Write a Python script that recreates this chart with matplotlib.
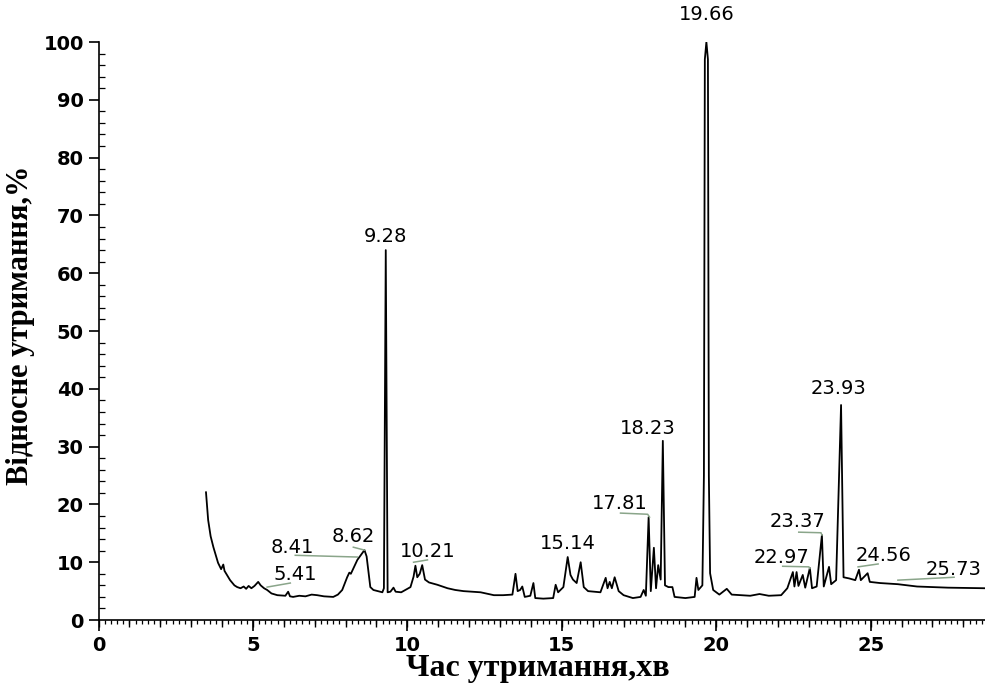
import matplotlib
matplotlib.use("Agg")
import matplotlib.pyplot as plt
from matplotlib.ticker import MultipleLocator

# chromatogram trace (retention time, min / relative abundance, %)
ret_time = [3.48, 3.55, 3.63, 3.72, 3.87, 3.97, 4.04, 4.08, 4.26, 4.40, 4.49, 4.60, 4.70, 4.78,
            4.86, 4.95, 5.05, 5.17, 5.25, 5.36, 5.46, 5.60, 5.79, 6.05, 6.14, 6.20, 6.30, 6.50,
            6.70, 6.90, 7.08, 7.30, 7.60, 7.75, 7.89, 8.05, 8.12, 8.17, 8.38, 8.61, 8.68, 8.80,
            8.90, 9.19, 9.24, 9.30, 9.36, 9.45, 9.55, 9.62, 9.80, 10.10, 10.20, 10.26, 10.32,
            10.40, 10.48, 10.57, 10.70, 10.97, 11.30, 11.55, 11.82, 12.10, 12.37, 12.80, 13.10,
            13.40, 13.50, 13.57, 13.65, 13.72, 13.80, 13.98, 14.08, 14.14, 14.40, 14.72, 14.80,
            14.88, 15.05, 15.19, 15.28, 15.36, 15.48, 15.61, 15.71, 15.85, 16.25, 16.42, 16.48,
            16.55, 16.62, 16.71, 16.84, 17.00, 17.30, 17.55, 17.65, 17.72, 17.81, 17.88, 17.98,
            18.05, 18.12, 18.20, 18.27, 18.34, 18.45, 18.58, 18.65, 19.00, 19.30, 19.36, 19.42,
            19.55, 19.60, 19.63, 19.68, 19.73, 19.76, 19.80, 19.90, 20.10, 20.34, 20.50, 20.80,
            21.10, 21.40, 21.70, 22.10, 22.30, 22.48, 22.53, 22.60, 22.66, 22.80, 22.88, 23.03,
            23.10, 23.25, 23.42, 23.48, 23.65, 23.72, 23.88, 24.04, 24.12, 24.30, 24.50, 24.62,
            24.68, 24.90, 24.97, 25.30, 25.88, 26.50, 27.50, 28.70]
rel_abund = [22.1, 17.3, 14.5, 12.6, 9.9, 8.8, 9.6, 8.5, 6.9, 6.0, 5.7, 5.5, 5.8, 5.4,
             5.9, 5.5, 5.9, 6.6, 6.0, 5.5, 5.2, 4.6, 4.3, 4.2, 4.9, 4.1, 4.0, 4.2,
             4.1, 4.4, 4.3, 4.1, 4.0, 4.4, 5.2, 7.4, 8.2, 8.0, 10.4, 12.1, 11.0, 5.7,
             5.2, 4.8, 5.5, 64.0, 4.8, 4.9, 5.6, 4.9, 4.8, 5.7, 7.5, 9.4, 7.4,
             8.0, 9.5, 7.0, 6.5, 6.1, 5.5, 5.2, 5.0, 4.9, 4.8, 4.3, 4.3,
             4.4, 8.0, 5.0, 5.2, 5.8, 4.0, 4.2, 6.4, 3.8, 3.7, 3.8, 6.1,
             4.8, 5.7, 10.9, 7.8, 7.0, 6.4, 10.0, 5.7, 5.0, 4.8, 7.3, 5.5,
             6.6, 5.5, 7.4, 5.0, 4.3, 3.8, 4.0, 5.2, 4.2, 17.8, 5.0, 12.5,
             5.5, 9.5, 7.0, 31.0, 6.0, 5.7, 5.7, 4.0, 3.8, 4.0, 7.3, 5.2,
             6.0, 25.0, 97.0, 100.0, 97.0, 25.0, 8.1, 5.2, 4.4, 5.4, 4.4, 4.3,
             4.2, 4.5, 4.2, 4.3, 5.5, 8.3, 5.8, 8.3, 5.9, 7.8, 5.6, 9.0,
             5.5, 5.8, 14.7, 5.8, 9.2, 6.2, 6.9, 37.2, 7.4, 7.2, 6.9, 8.7,
             6.9, 8.1, 6.6, 6.4, 6.2, 5.8, 5.6, 5.5]

peak_labels = ["5.41", "8.41", "8.62", "9.28", "10.21", "15.14", "17.81", "18.23",
               "19.66", "22.97", "23.37", "23.93", "24.56", "25.73"]

# where each label sits and its leader line (None = label right above the peak)
label_xy = [(6.37, 7.8), (6.28, 12.6), (8.25, 14.5), (9.29, 66.4), (10.65, 11.8),
            (15.19, 13.3), (16.87, 20.2), (17.78, 33.2), (19.69, 104.8), (22.12, 10.9),
            (22.64, 17.0), (23.97, 40.0), (25.43, 11.1), (27.67, 8.7)]
leaders = [[(5.46, 5.7), (6.21, 6.4)],
           [(6.37, 11.2), (8.38, 10.9)],
           [(8.25, 12.6), (8.61, 12.1)],
           None,
           [(10.2, 10.0), (10.65, 10.4)],
           None,
           [(16.9, 18.5), (17.78, 18.3), (17.84, 17.8)],
           None,
           None,
           [(22.15, 9.3), (23.0, 9.2), (23.03, 8.9)],
           [(22.67, 15.2), (23.39, 15.1), (23.42, 14.7)],
           None,
           [(24.59, 9.2), (25.24, 9.7)],
           [(25.88, 6.9), (27.7, 7.4)]]

fig = plt.figure(figsize=(9.85, 6.91), dpi=100)
ax = fig.add_axes([0.1, 0.1027, 0.9, 0.8365])

ax.plot(ret_time, rel_abund, color="black", lw=1.3)

for txt, (tx, ty), ld in zip(peak_labels, label_xy, leaders):
    ax.text(tx, ty, txt, ha="center", va="center", fontsize=14,
            family="DejaVu Sans", clip_on=False)
    if ld is not None:
        ax.plot([p[0] for p in ld], [p[1] for p in ld], color="#8aa58a", lw=1.1)

ax.set_xlim(0, 28.7)
ax.set_ylim(0, 100)
ax.spines["top"].set_visible(False)
ax.spines["right"].set_visible(False)
ax.spines["left"].set_linewidth(1.2)
ax.spines["bottom"].set_linewidth(1.2)

ax.xaxis.set_major_locator(MultipleLocator(5))
ax.xaxis.set_minor_locator(MultipleLocator(0.2))
ax.yaxis.set_major_locator(MultipleLocator(10))
ax.yaxis.set_minor_locator(MultipleLocator(2))
ax.tick_params(axis="x", which="major", direction="out", length=8, width=1.2)
ax.tick_params(axis="x", which="minor", direction="out", length=3, width=0.9)
ax.tick_params(axis="y", which="major", direction="out", length=7, width=1.2)
ax.tick_params(axis="y", which="minor", direction="in", length=4, width=0.9)
for lab in ax.get_xticklabels() + ax.get_yticklabels():
    lab.set_fontsize(14)
    lab.set_fontweight("bold")
    lab.set_family("DejaVu Sans")

# medium ticks at whole minutes
sec = ax.secondary_xaxis("bottom")
sec.spines["bottom"].set_visible(False)
sec.xaxis.set_major_locator(MultipleLocator(1))
sec.tick_params(axis="x", direction="out", length=5, width=1.0, labelbottom=False)

ax.set_xlabel("Час утримання,хв", family="Liberation Serif", fontsize=23, fontweight="bold")
ax.set_ylabel("Відносне утримання,%", family="Liberation Serif", fontsize=22, fontweight="bold")
ax.xaxis.set_label_coords(0.495, -0.058)
ax.yaxis.set_label_coords(-0.072, 0.51)

fig.savefig("out.png", dpi=100)
